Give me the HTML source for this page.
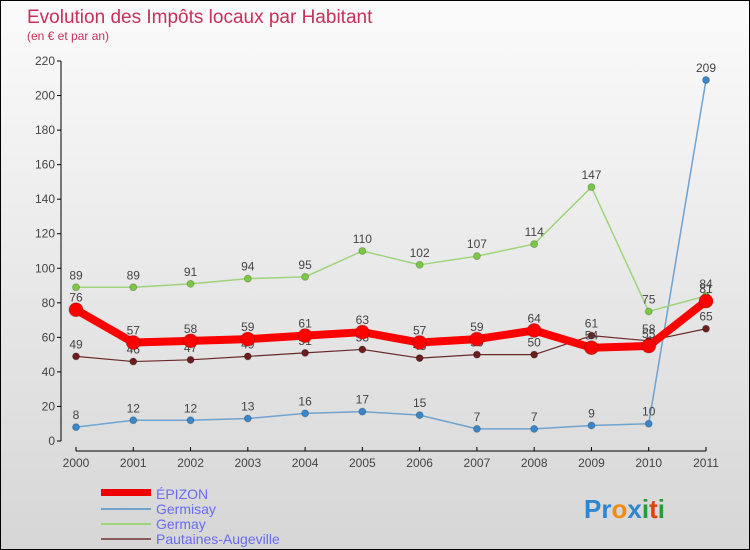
<!DOCTYPE html>
<html><head><meta charset="utf-8"><style>
body{margin:0}
#c{width:750px;height:550px;position:relative;font-family:"Liberation Sans",sans-serif;background:linear-gradient(#fbfbfb,#d6d6d6);border:1px solid #000;box-sizing:border-box;overflow:hidden}
</style></head><body>
<div id="c">
<svg id="s" width="750" height="550" style="position:absolute;left:0;top:0">
<text x="26" y="22" font-size="19" fill="#c8305a">Evolution des Impôts locaux par Habitant</text>
<text x="26" y="39" font-size="12" fill="#c8305a">(en € et par an)</text>
<g id="axes"></g><g id="series"></g>
<g>
<rect x="100" y="488" width="50" height="7" fill="#e00"/>
<text x="155" y="498" font-size="14" fill="#6b6bf0">ÉPIZON</text>
<line x1="100" y1="508" x2="150" y2="508" stroke="#6fa3d0" stroke-width="2"/>
<text x="155" y="513" font-size="14" fill="#6b6bf0">Germisay</text>
<line x1="100" y1="523" x2="150" y2="523" stroke="#9ed47a" stroke-width="2"/>
<text x="155" y="528" font-size="14" fill="#6b6bf0">Germay</text>
<line x1="100" y1="538" x2="150" y2="538" stroke="#8a5a5a" stroke-width="2"/>
<text x="155" y="543" font-size="14" fill="#6b6bf0">Pautaines-Augeville</text>
</g>
<g font-size="26" font-weight="bold">
<text x="583" y="517"><tspan fill="#2f86d0">Pr</tspan><tspan fill="#f08a18">o</tspan><tspan fill="#2f86d0">x</tspan><tspan fill="#2a9a3a">i</tspan><tspan fill="#e04010">t</tspan><tspan fill="#2a9a3a">i</tspan></text>
</g>
</svg>
</div>
<script>
const years=["2000","2001","2002","2003","2004","2005","2006","2007","2008","2009","2010","2011"];
const yTicks=[0,20,40,60,80,100,120,140,160,180,200,220];
const epizon=[76,57,58,59,61,63,57,59,64,54,55,81];
const germisay=[8,12,12,13,16,17,15,7,7,9,10,209];
const germay=[89,89,91,94,95,110,102,107,114,147,75,84];
const pautaines=[49,46,47,49,51,53,48,50,50,61,58,65];
const NS="http://www.w3.org/2000/svg";
const X=i=>75+i*(630/11);
const Y=v=>440-v*(380/220);
function mk(t,a,p){const e=document.createElementNS(NS,t);for(const k in a)e.setAttribute(k,a[k]);p.appendChild(e);return e;}
const ax=document.getElementById('axes');
let l=mk('line',{x1:60,y1:60,x2:60,y2:440,stroke:'#000'},ax);


l=mk('line',{x1:75,y1:450,x2:705,y2:450,stroke:'#000'},ax);


yTicks.forEach(v=>{
 mk('line',{x1:56,y1:Y(v),x2:60,y2:Y(v),stroke:'#000'},ax);
 const t=mk('text',{x:54,y:Y(v)+4,'font-size':12,fill:'#444','text-anchor':'end'},ax);
 t.textContent=v;
 
 
});
years.forEach((y,i)=>{
 mk('line',{x1:X(i),y1:446,x2:X(i),y2:450,stroke:'#000'},ax);
 const t=mk('text',{x:X(i),y:466,'font-size':12,fill:'#444','text-anchor':'middle'},ax);
 t.textContent=y;
 
 
});
const sg=document.getElementById('series');
function series(name,data,color,w,r,dot){
 const g=mk('g',{},sg);
 
 
 const p=mk('polyline',{points:data.map((v,i)=>X(i)+','+Y(v)).join(' '),fill:'none',stroke:color,'stroke-width':w,'stroke-linejoin':'round'},g);
 
 
 data.forEach((v,i)=>{
  const c=mk('circle',{cx:X(i),cy:Y(v),r:r,fill:dot,stroke:'#0003'},g);
  
  
  const t=mk('text',{x:X(i),y:Y(v)-8,'font-size':12,fill:'#444','text-anchor':'middle'},g);
  t.textContent=v;
  
  
 });
}
series('germisay',germisay,'#6fa3d0',1.5,3.5,'#3a86c8');
series('germay',germay,'#9ed47a',1.5,3.5,'#7ac843');
series('pautaines',pautaines,'#6a2a2a',1.2,3.5,'#6a1e1e');
series('epizon',epizon,'#f00',8,7,'#f00');
</script>
</body></html>
